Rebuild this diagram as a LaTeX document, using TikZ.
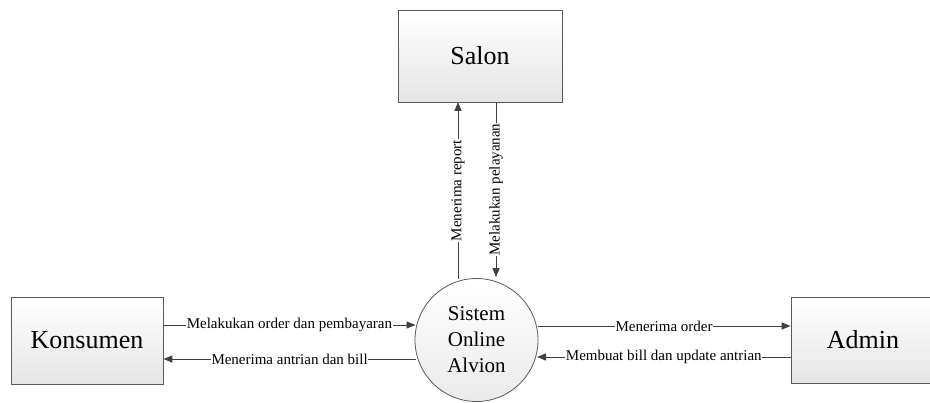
\documentclass[tikz,border=0pt]{standalone}
\usepackage{fontspec}
\setmainfont{Liberation Serif}
\usetikzlibrary{arrows.meta,shadows}
\begin{document}
\begin{tikzpicture}[x=1pt,y=1pt,
 entity/.style={rectangle, draw=black!65, line width=0.8pt, top color=white, bottom color=black!10,
   drop shadow={shadow xshift=1.2pt, shadow yshift=-1.2pt, fill=black!40, opacity=0.5},
   font=\fontsize{26}{28}\selectfont, inner sep=0pt},
 proc/.style={circle, draw=black!65, top color=white, bottom color=black!8, line width=0.8pt,
   minimum size=123pt, align=center, font=\fontsize{21}{26}\selectfont, inner sep=0pt},
 flow/.style={draw=black!75, line width=0.9pt, -{Triangle[length=9pt,width=7pt]}},
 lbl/.style={fill=white, inner sep=0.6pt, font=\fontsize{15}{16}\selectfont}]
\clip (0,0) rectangle (930,-403);
\node[entity, minimum width=164pt, minimum height=92pt] (salon) at (480,-56) {Salon};
\node[entity, minimum width=152pt, minimum height=87pt] (kons) at (87,-340.5) {Konsumen};
\node[entity, minimum width=144pt, minimum height=86pt] (admin) at (863,-340) {Admin};
\node[proc] (sys) at (476.5,-340) {Sistem\\Online\\Alvion};
% vertical flows
\coordinate (r1) at (458,-102);
\coordinate (p1) at (496,-102);
\draw[flow] (sys.north -| r1) ++(0,-1) -- node[lbl, rotate=90] {Menerima report} (r1);
\draw[flow] (p1) -- node[lbl, rotate=90] {Melakukan pelayanan} ([yshift=1pt]sys.north -| p1);
% left flows
\draw[flow] (kons.east |- 0,-325) -- node[lbl] {Melakukan order dan pembayaran} (415.5,-325);
\draw[flow] (415.8,-359) -- node[lbl] {Menerima antrian dan bill} (kons.east |- 0,-359);
% right flows
\draw[flow] (537.5,-326) -- node[lbl] {Menerima order} (admin.west |- 0,-326);
\draw[flow] (admin.west |- 0,-357) -- node[lbl] {Membuat bill dan update antrian} (537,-357);
\end{tikzpicture}
\end{document}
